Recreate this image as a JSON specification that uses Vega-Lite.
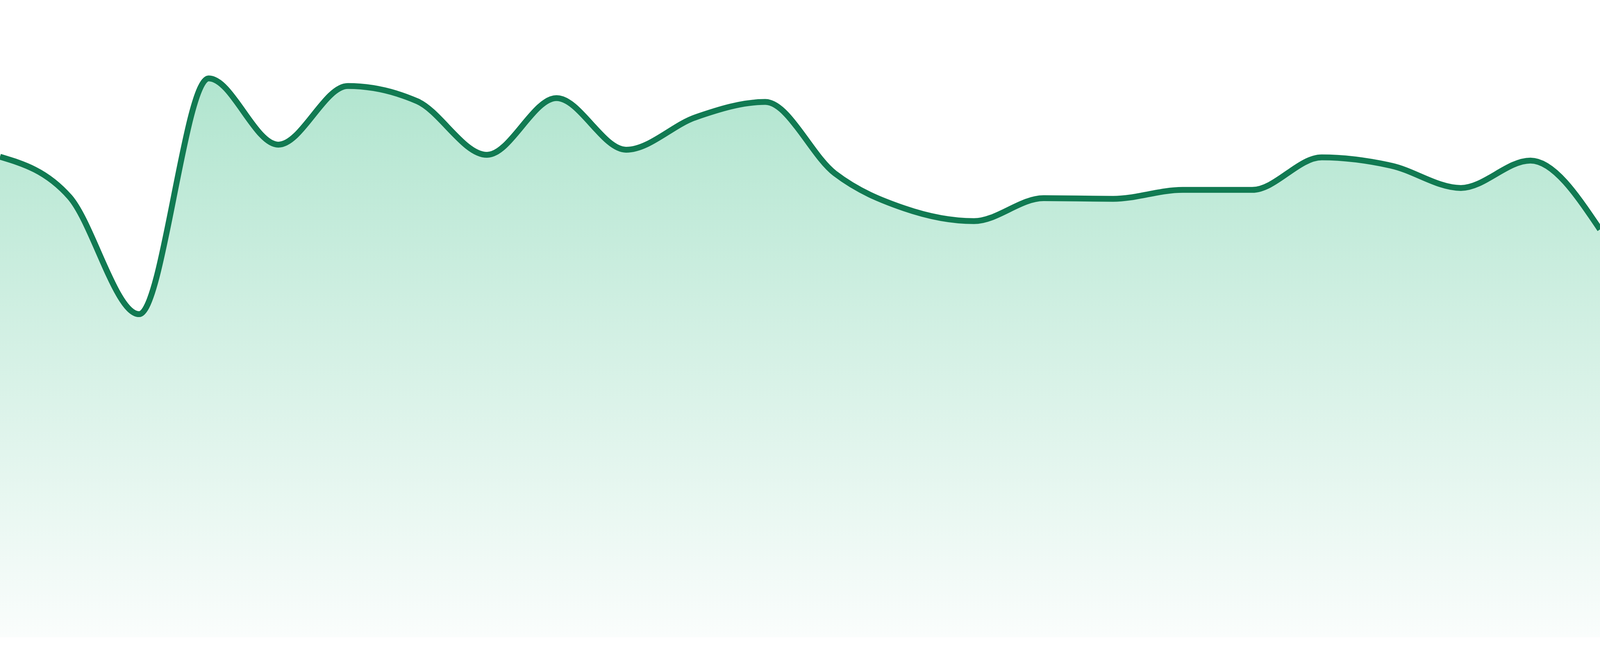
{
  "$schema": "https://vega.github.io/schema/vega-lite/v6.json",
  "width": 4096,
  "height": 1632,
  "autosize": {"type": "none"},
  "padding": {"left": 0, "top": 0, "right": 0, "bottom": 48},
  "background": "white",
  "view": {"stroke": null},
  "data": {
    "values": [
      {"t": 0, "v": 75.4},
      {"t": 1, "v": 69.1},
      {"t": 2, "v": 50.7},
      {"t": 3, "v": 87.7},
      {"t": 4, "v": 77.3},
      {"t": 5, "v": 86.5},
      {"t": 6, "v": 84.1},
      {"t": 7, "v": 75.7},
      {"t": 8, "v": 84.6},
      {"t": 9, "v": 76.5},
      {"t": 10, "v": 81.6},
      {"t": 11, "v": 84.0},
      {"t": 12, "v": 72.8},
      {"t": 13, "v": 67.3},
      {"t": 14, "v": 65.3},
      {"t": 15, "v": 68.9},
      {"t": 16, "v": 68.8},
      {"t": 17, "v": 70.2},
      {"t": 18, "v": 70.2},
      {"t": 19, "v": 75.3},
      {"t": 20, "v": 74.0},
      {"t": 21, "v": 70.5},
      {"t": 22, "v": 74.8},
      {"t": 23, "v": 64.0}
    ]
  },
  "encoding": {
    "x": {"field": "t", "type": "quantitative", "scale": {"domain": [0, 23], "nice": false, "zero": false}, "axis": null},
    "y": {"field": "v", "type": "quantitative", "scale": {"domain": [0, 100], "nice": false}, "axis": null}
  },
  "layer": [
    {
      "mark": {
        "type": "area",
        "interpolate": "monotone",
        "color": {
          "gradient": "linear",
          "x1": 0, "y1": 0, "x2": 0, "y2": 1,
          "stops": [
            {"offset": 0, "color": "#b1e5cf"},
            {"offset": 1, "color": "#fafdfc"}
          ]
        }
      }
    },
    {
      "mark": {"type": "line", "interpolate": "monotone", "color": "#117a52", "strokeWidth": 15}
    }
  ]
}
